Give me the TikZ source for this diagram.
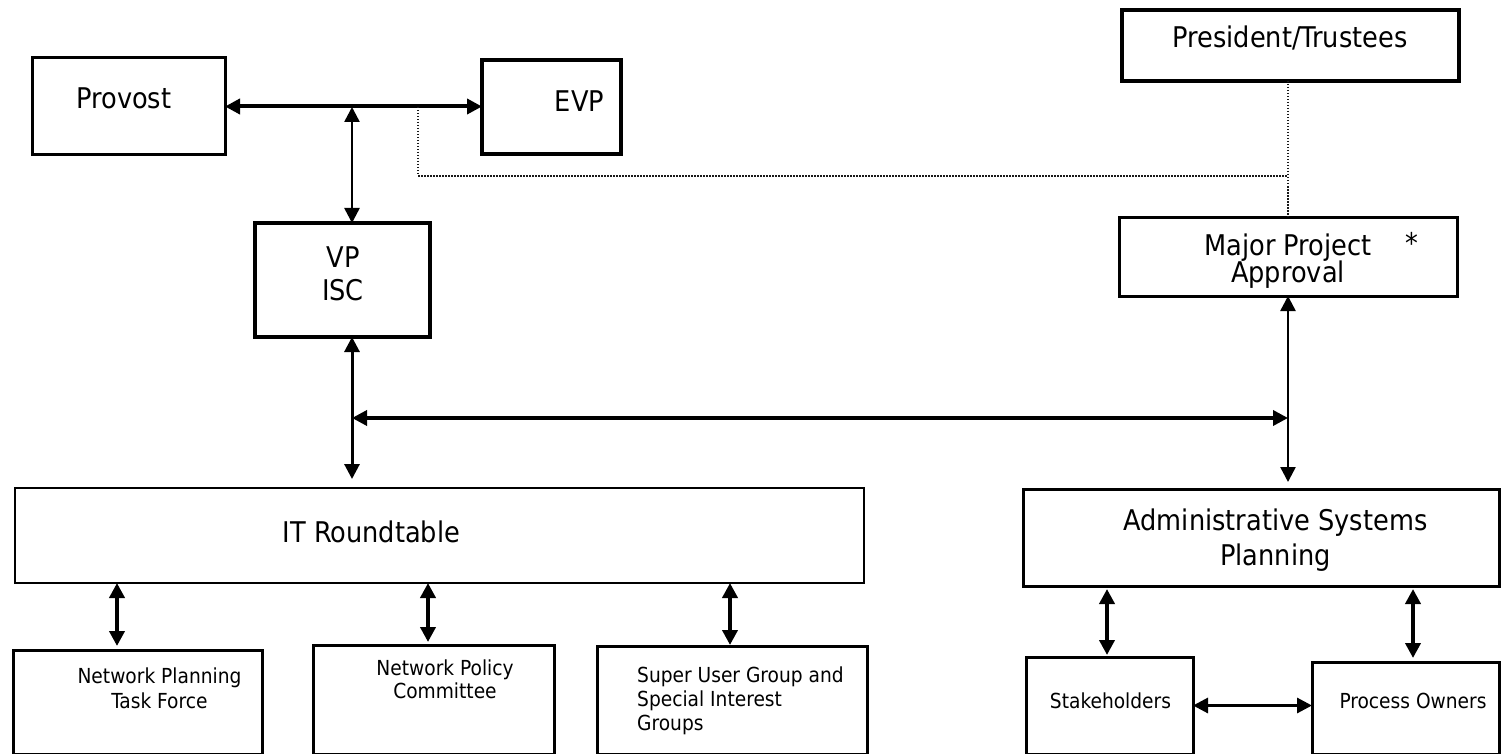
\documentclass[tikz,border=0pt]{standalone}
\usepackage{fontspec}
\setmainfont{DejaVu Sans Condensed}
\usetikzlibrary{arrows.meta}
\newcommand{\fBig}{\fontsize{28.5}{34}\selectfont}
\newcommand{\fSm}{\fontsize{20.7}{25}\selectfont}
\newcommand{\hB}{\rule{0pt}{24pt}}
\newcommand{\hS}{\rule{0pt}{18pt}}
\lineskiplimit=-50pt
\begin{document}
\begin{tikzpicture}[x=1pt,y=-1pt,
  box/.style={draw=black, line width=3pt, inner sep=0pt, outer sep=0pt},
  big/.style={font=\fBig, inner sep=0pt, anchor=base},
  sm/.style={font=\fSm, inner sep=0pt, anchor=base},
  bigm/.style={font=\fontsize{28.5}{#1}\selectfont, align=center, anchor=north, inner sep=0pt},
  smm/.style={font=\fontsize{20.7}{#1}\selectfont, align=center, anchor=north, inner sep=0pt},
  link/.style={line width=#1, {Triangle[length=15pt,width=15pt]}-{Triangle[length=15pt,width=15pt]}},
  dots/.style={line width=1.6pt, dash pattern=on 1.5pt off 1.5pt, black!90}]
\useasboundingbox (0,0) rectangle (1501,754);

% boxes
\node[box, minimum width=193pt, minimum height=97pt] (provost) at (128.5,106.5) {};
\node[box, line width=3.5pt, minimum width=139pt, minimum height=94pt] (evp) at (551.5,107) {};
\node[box, line width=3.5pt, minimum width=337pt, minimum height=71pt] (pres) at (1290.5,45.5) {};
\node[box, line width=4.7pt, minimum width=175pt, minimum height=114pt] (vp) at (342.5,280) {};
\node[box, minimum width=338pt, minimum height=79pt] (major) at (1288,256.5) {};
\node[box, line width=2.8pt, minimum width=849pt, minimum height=95pt] (itr) at (439.5,535.5) {};
\node[box, minimum width=476pt, minimum height=97pt] (asp) at (1261,537.5) {};
\node[box, minimum width=249pt, minimum height=104pt] (npt) at (137.5,702) {};
\node[box, minimum width=241pt, minimum height=109pt] (npc) at (433.5,699.5) {};
\node[box, minimum width=270pt, minimum height=108pt] (sug) at (732,700) {};
\node[box, minimum width=167pt, minimum height=97pt] (stake) at (1109.5,705.5) {};
\node[box, minimum width=187pt, minimum height=92pt] (proc) at (1405.5,708) {};

% texts
\node[big] (provostT) at (124,109) {Provost};
\node[big] (evpT) at (579.5,112) {EVP};
\node[big] (presT) at (1290,48) {President/Trustees};
\node[bigm=33] (vpT) at (343,243) {\hB VP\\ISC};
\node[bigm=27] (majorT) at (1288,231) {\hB Major Project\\Approval};
\node[big] (star) at (1412,253) {*};
\node[big] (itrT) at (371.5,542) {IT Roundtable};
\node[bigm=35] (aspT) at (1275.5,506) {\hB Administrative Systems\\Planning};
\node[smm=25] (nptT) at (159.5,665) {\hS Network Planning\\Task Force};
\node[smm=23] (npcT) at (445,657) {\hS Network Policy\\Committee};
\node[smm=24, align=left, anchor=north west] (sugT) at (637,664) {\hS Super User Group and\\Special Interest\\Groups};
\node[sm] (stakeT) at (1110.5,708) {Stakeholders};
\node[sm] (procT) at (1413,708) {Process Owners};

% junction coordinates
\coordinate (j1) at (352,107);
\coordinate (j2) at (418,107);
\coordinate (j3) at (418,176);
\coordinate (dv) at (1288,176);
\coordinate (h1) at (352,418);
\coordinate (h2) at (1288,418);
\coordinate (b1) at (117,0);
\coordinate (b2) at (428,0);
\coordinate (b3) at (730,0);
\coordinate (b4) at (1107,0);
\coordinate (b5) at (1413,0);

% connectors
\draw[link=4pt] (provost.east) -- (provost.east -| evp.west);
\draw[link=2.5pt] (j1) -- (j1 |- vp.north);
\draw[link=3pt, shorten >=9pt] (j1 |- vp.south) -- (j1 |- itr.north);
\draw[link=3.5pt] (h1) -- (h2);
\draw[link=2.5pt, shorten >=7pt] (h2 |- major.south) -- (h2 |- asp.north);
\draw[dots] (j2) -- (j3) -- (dv);
\draw[dots] (dv |- pres.south) -- (dv |- major.north);

\draw[link=4.5pt, shorten >=4pt] (b1 |- itr.south) -- (b1 |- npt.north);
\draw[link=4.5pt, shorten >=3pt] (b2 |- itr.south) -- (b2 |- npc.north);
\draw[link=4.5pt, shorten >=1pt] (b3 |- itr.south) -- (b3 |- sug.north);
\draw[link=4.5pt, shorten <=3pt, shorten >=2pt] (b4 |- asp.south) -- (b4 |- stake.north);
\draw[link=4.5pt, shorten <=3pt, shorten >=4pt] (b5 |- asp.south) -- (b5 |- proc.north);
\draw[link=3pt] (stake.east) -- (stake.east -| proc.west);
\end{tikzpicture}
\end{document}
